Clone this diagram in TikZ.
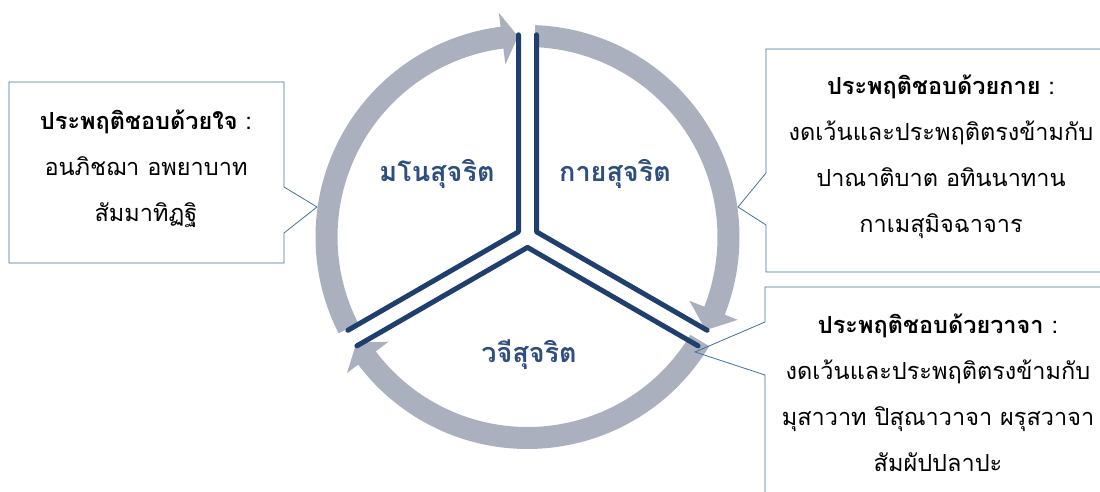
\documentclass[tikz,border=0pt]{standalone}
\usepackage{fontspec}
\newfontfamily\thaifont[Script=Thai]{Loma}
\usetikzlibrary{calc}
\definecolor{ring}{HTML}{ABB0BE}
\definecolor{spoke}{HTML}{1F3F6E}
\definecolor{callout}{HTML}{41719C}
\definecolor{heading}{HTML}{2E4D80}
\tikzset{
  spokeline/.style={draw=spoke,line width=5pt},
  calloutline/.style={draw=callout,line width=0.8pt,line join=miter},
  sector/.style={text=heading,font=\thaifont\bfseries\fontsize{27}{30}\selectfont},
  boxtext/.style={align=center,text=black}
}
\begin{document}
\begin{tikzpicture}[x=1pt,y=1pt,font=\thaifont\fontsize{23.5}{46}\selectfont, line join=round, line cap=round]
\def \rin{190};
\def \rout{212};
\def \rmid{201};
\def \hin{174};
\def \hout{226};
\useasboundingbox (0,0) rectangle (1100,492);
\clip (0,0) rectangle (1100,492);
\coordinate (c) at (527.5,255);
% grey ring arrows
\foreach \s/\b/\t in {207/97.3/92.7, 87.9/-21.5/-27.6, -31/-143/-148.3}
  \fill[ring] ($(c)+(\s:\rout)$) arc[start angle=\s,end angle=\b,radius=\rout] -- ($(c)+(\b:\hout)$) -- ($(c)+(\t:\rmid)$) -- ($(c)+(\b:\hin)$) -- ($(c)+(\b:\rin)$) arc[start angle=\b,end angle=\s,radius=\rin] -- cycle;
% the three sectors
\foreach \a/\p/\q in {150/90/210, 30/90/-30, 270/210/-30}
  \draw[spokeline] ($(c)+(\a:10.4)+(\p:197)$) -- ($(c)+(\a:10.4)$) -- ($(c)+(\a:10.4)+(\q:197)$);
\foreach \n/\x/\y/\l in {mano/437/318/มโนสุจริต, kaya/615/318/กายสุจริต, vaci/529/137/วจีสุจริต}
  \node[sector] (\n) at (\x,\y) {\l};
% callouts
\draw[calloutline] (9,410) -- (284,410) -- (284,305) -- (317,285) -- (284,259) -- (284,229) -- (9,229) -- cycle;
\draw[calloutline] (1110,443) -- (766,443) -- (766,319) -- (738,285) -- (766,267) -- (766,220) -- (1110,220);
\draw[calloutline] (1110,205) -- (765,205) -- (765,170) -- (695,140) -- (765,117) -- (765,-10);
\node[boxtext] (manotext) at (146,323) {{\bfseries ประพฤติชอบด้วยใจ} :\\ อนภิชฌา อพยาบาท\\ สัมมาทิฏฐิ};
\node[boxtext] (kayatext) at (941,335) {{\bfseries ประพฤติชอบด้วยกาย} :\\ งดเว้นและประพฤติตรงข้ามกับ\\ ปาณาติบาต อทินนาทาน\\ กาเมสุมิจฉาจาร};
\node[boxtext] (vacitext) at (938,99) {{\bfseries ประพฤติชอบด้วยวาจา} :\\ งดเว้นและประพฤติตรงข้ามกับ\\ มุสาวาท ปิสุณาวาจา ผรุสวาจา\\ สัมผัปปลาปะ};
\end{tikzpicture}
\end{document}
